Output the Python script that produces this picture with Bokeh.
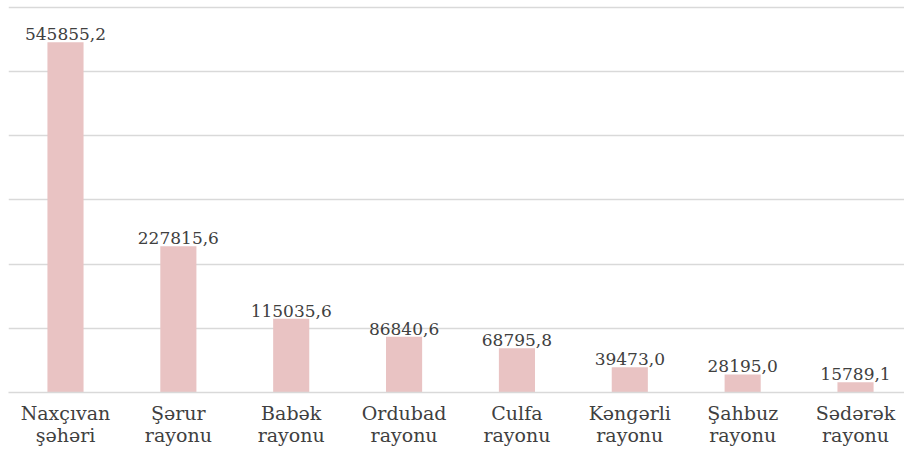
from bokeh.plotting import figure
from bokeh.models import Range1d, FixedTicker, ColumnDataSource
from bokeh.core.properties import value
from bokeh.embed import file_html
from bokeh.resources import INLINE

categories = ["Naxçıvan\nşəhəri", "Şərur\nrayonu", "Babək\nrayonu", "Ordubad\nrayonu",
              "Culfa\nrayonu", "Kəngərli\nrayonu", "Şahbuz\nrayonu", "Sədərək\nrayonu"]
values = [545855.2, 227815.6, 115035.6, 86840.6, 68795.8, 39473.0, 28195.0, 15789.1]
y_ticks = [0, 100000, 200000, 300000, 400000, 500000, 600000]

xs = list(range(len(categories)))
labels = [f"{v:.1f}".replace(".", ",") for v in values]
src = ColumnDataSource(dict(x=xs, top=values, label=labels))

p = figure(width=904, height=451, output_backend="svg", toolbar_location=None,
           x_range=Range1d(-0.505, 7.434), y_range=Range1d(0, 603100),
           y_axis_location=None, min_border_left=8, min_border_right=0,
           min_border_top=5, min_border_bottom=59)
p.outline_line_color = None
p.background_fill_color = "white"

p.vbar(x="x", top="top", width=0.32, source=src, fill_color="#e9c3c3", line_color=None)
p.text(x="x", y="top", text="label", source=src, text_align="center", text_baseline="bottom",
       y_offset=-2, text_font=value("DejaVu Serif"), text_font_size="17px", text_color="#404040")

p.xgrid.visible = False
p.ygrid.ticker = FixedTicker(ticks=y_ticks)
p.ygrid.grid_line_color = "#d9d9d9"
p.ygrid.grid_line_width = 1.5

ax = p.xaxis[0]
ax.ticker = FixedTicker(ticks=xs)
ax.major_label_overrides = {i: c for i, c in zip(xs, categories)}
ax.major_tick_line_color = None
ax.minor_tick_line_color = None
ax.axis_line_color = "#d9d9d9"
ax.axis_line_width = 1.5
ax.major_label_text_font = "DejaVu Serif"
ax.major_label_text_font_size = "19px"
ax.major_label_text_color = "#404040"
ax.major_label_text_line_height = 1.0
ax.major_label_standoff = 3

open("out.html", "w").write(file_html(p, INLINE))
